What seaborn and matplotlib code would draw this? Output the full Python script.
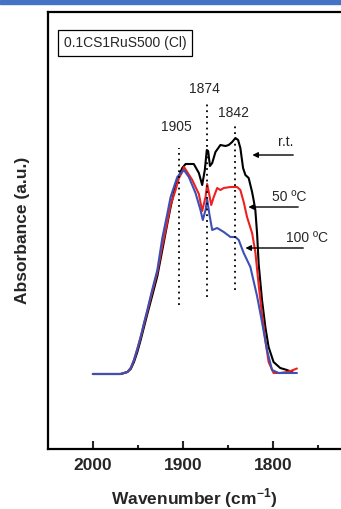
import matplotlib
matplotlib.use("Agg")
import matplotlib.pyplot as plt
from matplotlib.patches import Rectangle
import seaborn as sns
import pandas as pd

# ---- data ----
wn_rt = [2000, 1980.1, 1969.1, 1961.7, 1958.0, 1954.4, 1950.7, 1947.0, 1943.3, 1939.6,
         1934.0, 1928.5, 1923.0, 1917.5, 1913.8, 1910.0,
         1906.4, 1900.9, 1897.2, 1888.1, 1882.5, 1878.8, 1875.9, 1873.7, 1872.2, 1870.2,
         1867.7, 1864.1, 1858.6, 1853.0, 1849.4, 1845.6, 1842.0, 1839.0, 1836.5, 1833.5,
         1830.9, 1827.3, 1823.5, 1821.8, 1819.9, 1818.0, 1816.2, 1812.5, 1808.8, 1805.2,
         1799.7, 1792.3, 1784.9, 1779.3, 1777.9]
ab_rt = [0.0, 0.0, 0.0, 0.02, 0.05, 0.12, 0.22, 0.34, 0.47, 0.60,
         0.79, 0.98, 1.24, 1.50, 1.67, 1.82,
         1.94, 2.06, 2.10, 2.10, 2.01, 1.89, 2.04, 2.24, 2.23, 2.08,
         2.11, 2.22, 2.29, 2.28, 2.29, 2.32, 2.36, 2.34, 2.26, 2.06,
         1.99, 1.96, 1.82, 1.74, 1.64, 1.41, 1.10, 0.74, 0.47, 0.27,
         0.12, 0.06, 0.04, 0.02, 0.01]

wn_50 = [2000, 1980.1, 1969.1, 1961.7, 1958.0, 1954.4, 1950.7, 1947.0, 1943.3, 1939.6,
         1934.0, 1928.5, 1923.5, 1919.3, 1913.8,
         1908.3, 1904.6, 1900.9, 1898.9, 1895.4, 1889.8, 1882.5, 1878.8, 1875.1, 1873.3,
         1871.5, 1868.8, 1866.0, 1862.2, 1858.6, 1854.9, 1847.5, 1840.1, 1836.5, 1832.8,
         1829.1, 1823.5, 1819.9, 1816.2, 1812.5, 1808.8, 1805.2, 1799.7, 1792.3, 1784.9,
         1779.3, 1773.8]
ab_50 = [0.0, 0.0, 0.0, 0.02, 0.06, 0.14, 0.25, 0.37, 0.50, 0.63,
         0.83, 1.02, 1.26, 1.44, 1.69,
         1.84, 1.96, 2.02, 2.07, 2.02, 1.94, 1.80, 1.63, 1.77, 1.90,
         1.82, 1.69, 1.77, 1.86, 1.84, 1.86, 1.87, 1.87, 1.84, 1.72,
         1.57, 1.41, 1.22, 0.89, 0.60, 0.34, 0.12, 0.01, 0.01, 0.02,
         0.035, 0.055]

wn_100 = [2000, 1980.1, 1969.1, 1961.7, 1958.0, 1954.4, 1950.7, 1947.0, 1943.3, 1939.6,
          1934.0, 1928.5, 1923.0, 1917.5,
          1913.8, 1906.4, 1899.1, 1893.6, 1886.2, 1880.7, 1878.1, 1875.1, 1873.3, 1870.7,
          1867.7, 1862.2, 1854.9, 1847.5, 1842.0, 1838.3, 1832.8, 1825.4, 1818.0, 1812.5,
          1807.0, 1801.4, 1794.1, 1784.9, 1773.8]
ab_100 = [0.0, 0.0, 0.0, 0.02, 0.06, 0.14, 0.25, 0.37, 0.51, 0.64,
          0.85, 1.04, 1.36, 1.60,
          1.77, 1.97, 2.04, 1.97, 1.81, 1.64, 1.54, 1.64, 1.75, 1.59,
          1.44, 1.46, 1.42, 1.37, 1.37, 1.34, 1.21, 1.07, 0.78, 0.52,
          0.24, 0.04, 0.01, 0.01, 0.01]

peak_pos = [1905, 1874, 1842]
peak_labels = ["1905", "1874", "1842"]
peak_top = [2.26, 2.72, 2.48]
peak_bottom = [0.69, 0.77, 0.84]
peak_label_y = [2.47, 2.85, 2.61]

series_labels = ["r.t.", "50 ºC", "100 ºC"]
series_colors = ["black", "#f02020", "#3d50b4"]
arrow_y = [2.19, 1.67, 1.26]
arrow_from = [1777.9, 1772.4, 1766.8]
arrow_to = [1823.2, 1827.6, 1830.9]
text_x = [1786.7, 1782.3, 1762.4]
text_y = [2.32, 1.77, 1.36]

x_ticks = [2000, 1900, 1800]
x_minor = [1950, 1850, 1750]

# ---- figure ----
sns.set_style("ticks")
plt.rcParams["font.family"] = ["Liberation Sans", "DejaVu Sans"]
plt.rcParams["mathtext.fontset"] = "custom"
plt.rcParams["mathtext.bf"] = "Liberation Sans:bold"
plt.rcParams["mathtext.rm"] = "Liberation Sans"

fig = plt.figure(figsize=(3.41, 5.09), dpi=100)
ax = fig.add_axes([0.140, 0.1179, 0.926, 0.8585])

for wn, ab, col in zip([wn_rt, wn_50, wn_100], [ab_rt, ab_50, ab_100], series_colors):
    df = pd.DataFrame({"wn": wn, "ab": ab})
    sns.lineplot(data=df, x="wn", y="ab", ax=ax, color=col, lw=1.5, sort=False,
                 estimator=None)

ax.vlines(peak_pos, peak_bottom, peak_top, colors="black", linestyles=(0, (1, 2.2)), lw=1.3)
for p, lab, ly in zip(peak_pos, peak_labels, peak_label_y):
    ax.text(p + 2.5, ly, lab, ha="center", va="center", fontsize=10)

for lab, ay, af, at, tx, ty in zip(series_labels, arrow_y, arrow_from, arrow_to, text_x, text_y):
    ax.annotate("", xy=(at, ay), xytext=(af, ay),
                arrowprops=dict(arrowstyle="-|>", color="black", lw=1.0, mutation_scale=8,
                                shrinkA=0, shrinkB=0))
    ax.text(tx, ty, lab, ha="center", va="center", fontsize=10)

ax.text(0.245, 0.929, "0.1CS1RuS500 (Cl)", transform=ax.transAxes, ha="center", va="center",
        fontsize=10, bbox=dict(boxstyle="square,pad=0.4", fc="white", ec="black", lw=0.9))

ax.set_xlim(2050, 1700)
ax.set_ylim(-0.75, 3.62)
ax.set_xticks(x_ticks)
ax.set_xticks(x_minor, minor=True)
ax.set_xticklabels([str(t) for t in x_ticks], fontweight="bold", fontsize=12.5)
ax.set_yticks([])
ax.tick_params(axis="x", which="major", direction="in", length=6, width=1.5, pad=6.5)
ax.tick_params(axis="x", which="minor", direction="in", length=3, width=1.5)
for s in ax.spines.values():
    s.set_linewidth(1.6)
    s.set_color("black")

ax.set_xlabel("Wavenumber (cm$^{\\mathbf{-1}}$)", fontweight="bold", fontsize=12.5)
ax.xaxis.set_label_coords(0.465, -0.085)
ax.set_ylabel("Absorbance (a.u.)", fontweight="bold", fontsize=12.5, labelpad=13)

fig.patches.append(Rectangle((0, 1 - 3.5 / 509), 1, 3.5 / 509, transform=fig.transFigure,
                             color="#4472c4", zorder=10))

fig.savefig("out.png", dpi=100)
